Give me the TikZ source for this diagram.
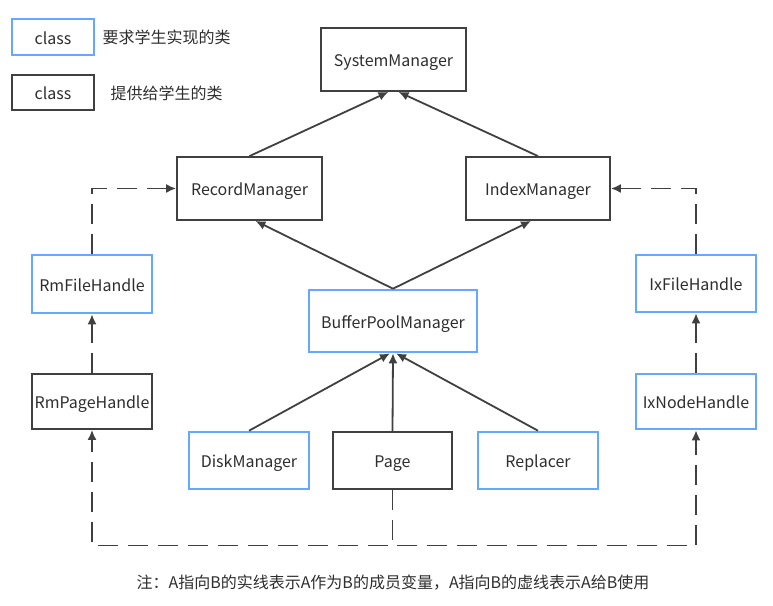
\documentclass[tikz,border=0pt]{standalone}
\usepackage{fontspec}
\setmainfont{Noto Sans CJK SC}
\usetikzlibrary{arrows.meta}
\definecolor{bluebd}{HTML}{66A8FF}
\definecolor{linec}{HTML}{404040}
\definecolor{txtc}{HTML}{2E2E2E}
\begin{document}
\begin{tikzpicture}[x=1pt,y=-1pt,
  every node/.style={text=txtc,font=\fontsize{16}{18}\selectfont},
  bluebox/.style={draw=bluebd,line width=2.6pt,fill=white,inner sep=0pt,text height=14pt,text depth=0pt},
  blackbox/.style={draw=linec,line width=1.8pt,fill=white,inner sep=0pt,text height=14pt,text depth=0pt},
  conn/.style={draw=linec,line width=1.8pt,-{Latex[length=10pt,width=9pt]}},
  dsh/.style={conn,dash pattern=on 20pt off 10pt},
  lbl/.style={anchor=west}]
\useasboundingbox (0,0) rectangle (773,605);
% legend
\node[bluebox,minimum width=82pt,minimum height=36pt] (leg1) at (53,37) {class};
\node[blackbox,minimum width=82pt,minimum height=35pt] (leg2) at (53,92.5) {class};
\node[lbl] (leg1t) at (99,37) {要求学生实现的类};
\node[lbl] (leg2t) at (107,93) {提供给学生的类};
% nodes
\node[blackbox,minimum width=145pt,minimum height=63pt] (sys) at (393.5,59.5) {SystemManager};
\node[blackbox,minimum width=145pt,minimum height=63pt] (rec) at (249.5,188.5) {RecordManager};
\node[blackbox,minimum width=144pt,minimum height=63pt] (idx) at (538,188.5) {IndexManager};
\node[bluebox,minimum width=120pt,minimum height=58pt] (rmf) at (92,284) {RmFileHandle};
\node[blackbox,minimum width=120pt,minimum height=55pt] (rmp) at (92,401.5) {RmPageHandle};
\node[bluebox,minimum width=168pt,minimum height=62pt] (bpm) at (393,321) {BufferPoolManager};
\node[bluebox,minimum width=120pt,minimum height=57pt] (disk) at (249,460.5) {DiskManager};
\node[blackbox,minimum width=119pt,minimum height=57pt] (page) at (392.5,460.5) {Page};
\node[bluebox,minimum width=120pt,minimum height=57pt] (rep) at (538,460.5) {Replacer};
\node[bluebox,minimum width=120pt,minimum height=57pt] (ixf) at (696,283.5) {IxFileHandle};
\node[bluebox,minimum width=120pt,minimum height=55pt] (ixn) at (696,401.5) {IxNodeHandle};
% solid arrows
\draw[conn] (rec.north) -- ([xshift=-5pt]sys.south);
\draw[conn] (idx.north) -- ([xshift=5pt]sys.south);
\draw[conn] (bpm.north) -- ([xshift=6pt]rec.south);
\draw[conn] (bpm.north) -- ([xshift=-7pt]idx.south);
\draw[conn] (disk.north) -- ([xshift=-3pt]bpm.south);
\draw[conn] (page.north) -- (bpm.south);
\draw[conn] (rep.north) -- ([xshift=3pt]bpm.south);
% dashed arrows
\draw[dsh] (rmf.north) |- (rec.west);
\draw[dsh] (ixf.north) |- (idx.east);
\draw[dsh] (rmp.north) -- (rmf.south);
\draw[dsh] (ixn.north) -- (ixf.south);
\coordinate (bot) at (392.5,545.5);
\draw[dsh] (page.south) -- (bot) -| (rmp.south);
\draw[dsh] (page.south) -- (bot) -| (ixn.south);
% note
\node (note) at (393,583) {注：A指向B的实线表示A作为B的成员变量，A指向B的虚线表示A给B使用};
\end{tikzpicture}
\end{document}
